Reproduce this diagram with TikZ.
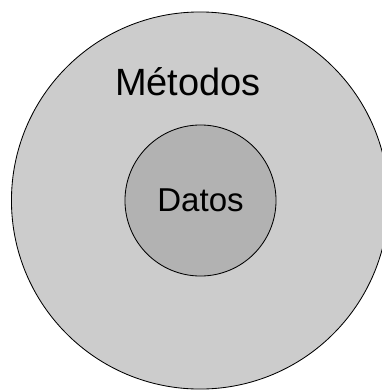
\documentclass[tikz,border=0pt]{standalone}
\usepackage{fontspec}
\setmainfont{Liberation Sans}
\usetikzlibrary{positioning}
\usepackage{xcolor}

\begin{document}
\begin{tikzpicture}[x=0.025cm, y=-0.025cm,
layer/.style={draw, 
circle, 
line width=0.6pt, 
inner sep=0pt}, 
outerlayer/.style={layer, fill=black!20, minimum size=9.425cm}, 
innerlayer/.style={layer, fill=black!30, minimum size=3.775cm, font=\fontsize{23.5}{28}\selectfont}, 
label/.style={font=\fontsize{27}{32}\selectfont, inner sep=0pt, anchor=base} 
]

\useasboundingbox (0,0) rectangle (382,390); 
\clip (0,0) rectangle (382,390);

\node[outerlayer] (metodos) at (200,200.5) {}; 
\node[innerlayer] (datos) at (200.5,200.5) {Datos}; 
\node[label] (metodoslabel) at (188,95) {Métodos};

\end{tikzpicture}
\end{document}
